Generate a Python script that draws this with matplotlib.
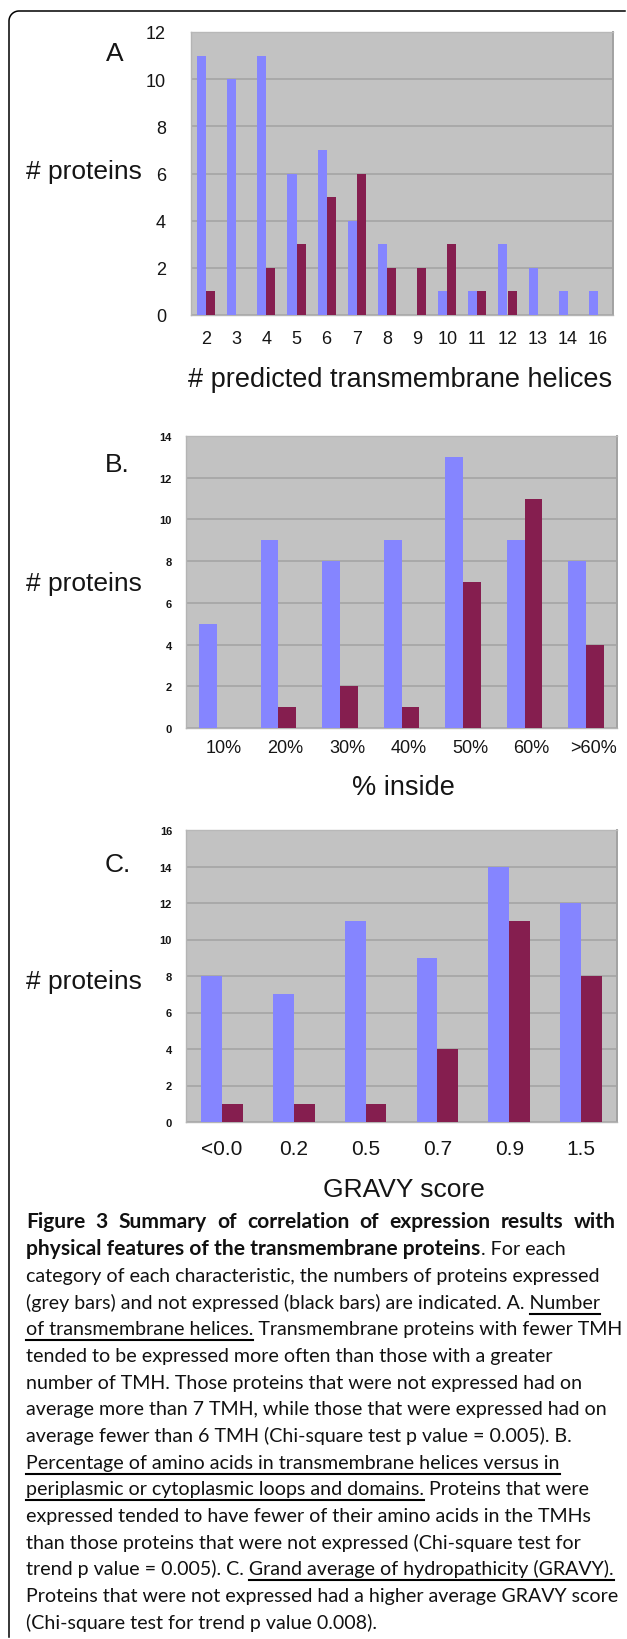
import numpy as np
import matplotlib
matplotlib.use("Agg")
import matplotlib.pyplot as plt
from matplotlib.lines import Line2D
from matplotlib.transforms import ScaledTranslation

# ---------------- data ----------------
tmh_categories = ['2', '3', '4', '5', '6', '7', '8', '9', '10', '11', '12', '13', '14', '16']
tmh_expressed = [11, 10, 11, 6, 7, 4, 3, 0, 1, 1, 3, 2, 1, 1]
tmh_not_expressed = [1, 0, 2, 3, 5, 6, 2, 2, 3, 1, 1, 0, 0, 0]
tmh_yticks = [0, 2, 4, 6, 8, 10, 12]

inside_categories = ['10%', '20%', '30%', '40%', '50%', '60%', '>60%']
inside_expressed = [5, 9, 8, 9, 13, 9, 8]
inside_not_expressed = [0, 1, 2, 1, 7, 11, 4]
inside_yticks = [0, 2, 4, 6, 8, 10, 12, 14]

gravy_categories = ['<0.0', '0.2', '0.5', '0.7', '0.9', '1.5']
gravy_expressed = [8, 7, 11, 9, 14, 12]
gravy_not_expressed = [1, 1, 1, 4, 11, 8]
gravy_yticks = [0, 2, 4, 6, 8, 10, 12, 14, 16]

caption_lines = [
    [("Figure 3 Summary of correlation of expression results with", True)],
    [("physical features of the transmembrane proteins", True), (". For each", False)],
    [("category of each characteristic, the numbers of proteins expressed", False)],
    [("(grey bars) and not expressed (black bars) are indicated. A. Number", False)],
    [("of transmembrane helices. Transmembrane proteins with fewer TMH", False)],
    [("tended to be expressed more often than those with a greater", False)],
    [("number of TMH. Those proteins that were not expressed had on", False)],
    [("average more than 7 TMH, while those that were expressed had on", False)],
    [("average fewer than 6 TMH (Chi-square test p value = 0.005). B.", False)],
    [("Percentage of amino acids in transmembrane helices versus in", False)],
    [("periplasmic or cytoplasmic loops and domains. Proteins that were", False)],
    [("expressed tended to have fewer of their amino acids in the TMHs", False)],
    [("than those proteins that were not expressed (Chi-square test for", False)],
    [("trend p value = 0.005). C. Grand average of hydropathicity (GRAVY).", False)],
    [("Proteins that were not expressed had a higher average GRAVY score", False)],
    [("(Chi-square test for trend p value 0.008).", False)],
]
# (line index, underlined substring)
caption_underlines = [
    (3, "Number"),
    (4, "of transmembrane helices."),
    (9, "Percentage of amino acids in transmembrane helices versus in"),
    (10, "periplasmic or cytoplasmic loops and domains."),
    (13, "Grand average of hydropathicity (GRAVY)."),
]

# ---------------- style ----------------
W, H = 627, 1640
BLUE = '#8585FF'
MAROON = '#851E4F'
BG = '#C2C2C2'
GRID = '#A4A4A4'
TXT = '#151515'
CHART_FONT = ['Liberation Sans', 'DejaVu Sans']
CAP_FONT = ['Lato', 'DejaVu Sans']

fig = plt.figure(figsize=(W / 100, H / 100), dpi=100)
fig.patch.set_facecolor('white')


def rect(left, right, top, bottom):
    return [left / W, 1 - bottom / H, (right - left) / W, (bottom - top) / H]


def ftext(x, y, s, **kw):
    return fig.text(x / W, 1 - y / H, s, **kw)


def panel(box, cats, exp, notexp, yticks, bw, ytick_size, ytick_bold, ytick_pad,
          xtick_size, xtick_pad, xoffset_px=0):
    ax = fig.add_axes(rect(*box))
    ax.set_facecolor(BG)
    x = np.arange(len(cats))
    ax.bar(x - bw / 2, exp, bw, color=BLUE, linewidth=0, zorder=3)
    ax.bar(x + bw / 2, notexp, bw, color=MAROON, linewidth=0, zorder=3)
    ax.set_xlim(-0.5, len(cats) - 0.5)
    ax.set_ylim(yticks[0], yticks[-1])
    ax.set_yticks(yticks)
    ax.set_yticklabels([str(v) for v in yticks], fontsize=ytick_size,
                       fontweight='bold' if ytick_bold else 'normal',
                       family=CHART_FONT, color=TXT)
    ax.set_xticks(x)
    ax.set_xticklabels(cats, fontsize=xtick_size, family=CHART_FONT, color=TXT)
    ax.tick_params(axis='both', length=0)
    ax.tick_params(axis='y', pad=ytick_pad)
    ax.tick_params(axis='x', pad=xtick_pad)
    ax.yaxis.grid(True, color=GRID, linewidth=1.2, zorder=1)
    ax.xaxis.grid(False)
    ax.set_axisbelow(True)
    for side, col, lw in [('left', '#B4B4B4', 1.0), ('top', '#B8B8B8', 1.0),
                          ('right', '#A2A2A2', 1.4), ('bottom', '#B4B4B4', 1.0)]:
        ax.spines[side].set_color(col)
        ax.spines[side].set_linewidth(lw)
    if xoffset_px:
        off = ScaledTranslation(xoffset_px / 100, 0, fig.dpi_scale_trans)
        for lab in ax.get_xticklabels():
            lab.set_transform(lab.get_transform() + off)
    return ax


# Panel A
panel((191, 613, 33, 316), tmh_categories, tmh_expressed, tmh_not_expressed,
      tmh_yticks, 0.30, 13, False, 18, 13, 10.5)
ftext(115, 54, "A", fontsize=19, family=CHART_FONT, color=TXT, ha='center', va='center')
ftext(26, 172, "# proteins", fontsize=19, family=CHART_FONT, color=TXT, ha='left', va='center')
ftext(400, 380, "# predicted transmembrane helices", fontsize=19.5, family=CHART_FONT,
      color=TXT, ha='center', va='center')

# Panel B
panel((186, 617, 437, 729), inside_categories, inside_expressed, inside_not_expressed,
      inside_yticks, 0.29, 8, True, 10, 13, 8, xoffset_px=7)
ftext(117, 465, "B.", fontsize=19, family=CHART_FONT, color=TXT, ha='center', va='center')
ftext(26, 584, "# proteins", fontsize=19, family=CHART_FONT, color=TXT, ha='left', va='center')
ftext(403, 788, "% inside", fontsize=19.5, family=CHART_FONT, color=TXT,
      ha='center', va='center')

# Panel C
panel((186, 617, 831, 1123), gravy_categories, gravy_expressed, gravy_not_expressed,
      gravy_yticks, 0.29, 8, True, 10, 15, 12.5)
ftext(118, 865, "C.", fontsize=19, family=CHART_FONT, color=TXT, ha='center', va='center')
ftext(26, 982, "# proteins", fontsize=19, family=CHART_FONT, color=TXT, ha='left', va='center')
ftext(404, 1190, "GRAVY score", fontsize=19, family=CHART_FONT, color=TXT,
      ha='center', va='center')

# ---------------- caption ----------------
renderer = fig.canvas.get_renderer()
X0 = 26
X1 = 616
LINE0 = 1223 + 5.5
LSTEP = 26.67


def measure(s, bold, size):
    t = fig.text(0, 0, s, fontsize=size, family=CAP_FONT,
                 fontweight='bold' if bold else 'normal')
    w = t.get_window_extent(renderer).width
    t.remove()
    return w


# fit caption font sizes to the widths of the reference lines
base = 12.0
reg_w = measure(line := caption_lines[2][0][0], False, base) + measure(caption_lines[4][0][0], False, base)
REG_SIZE = base * (574 + 590) / reg_w
BOLD_SIZE = base * 450 / measure(caption_lines[1][0][0], True, base)

line_texts = []
for i, segs in enumerate(caption_lines):
    yb = LINE0 + i * LSTEP
    x = X0
    full = ""
    if i == 0:
        # justified first line
        words = segs[0][0].split(" ")
        widths = [measure(wd, True, BOLD_SIZE) for wd in words]
        gap = (X1 - X0 - sum(widths)) / (len(words) - 1)
        for wd, w in zip(words, widths):
            ftext(x, yb, wd, fontsize=BOLD_SIZE, family=CAP_FONT, color='#111111',
                  fontweight='bold', ha='left', va='baseline')
            x += w + gap
        line_texts.append(segs[0][0])
        continue
    for s, bold in segs:
        size = BOLD_SIZE if bold else REG_SIZE
        ftext(x, yb, s, fontsize=size, family=CAP_FONT, color='#111111',
              fontweight='bold' if bold else 'normal', ha='left', va='baseline')
        x += measure(s, bold, size) + 0.5
        full += s
    line_texts.append(full)

for idx, sub in caption_underlines:
    full = line_texts[idx]
    k = full.index(sub)
    prefix = full[:k]
    if prefix:
        start = X0 + measure(prefix + sub[0], False, REG_SIZE) - measure(sub[0], False, REG_SIZE)
    else:
        start = X0
    end = X0 + measure(prefix + sub, False, REG_SIZE)
    yu = LINE0 + idx * LSTEP + 6
    fig.add_artist(Line2D([start / W, end / W], [1 - yu / H, 1 - yu / H],
                          transform=fig.transFigure, color='black', linewidth=1.5))

# ---------------- frame ----------------
r = 10
fx, fy = 9, 12
ang = np.linspace(np.pi / 2, np.pi, 20)
arc_x = fx + r + r * np.cos(ang)
arc_y = fy + r - r * np.sin(ang)
frame_x = np.concatenate([[625], arc_x, [fx]])
frame_y = np.concatenate([[fy], arc_y, [1638]])
fig.add_artist(Line2D(frame_x / W, 1 - frame_y / H, transform=fig.transFigure,
                      color='black', linewidth=1.1))

fig.savefig("out.png", dpi=100)
